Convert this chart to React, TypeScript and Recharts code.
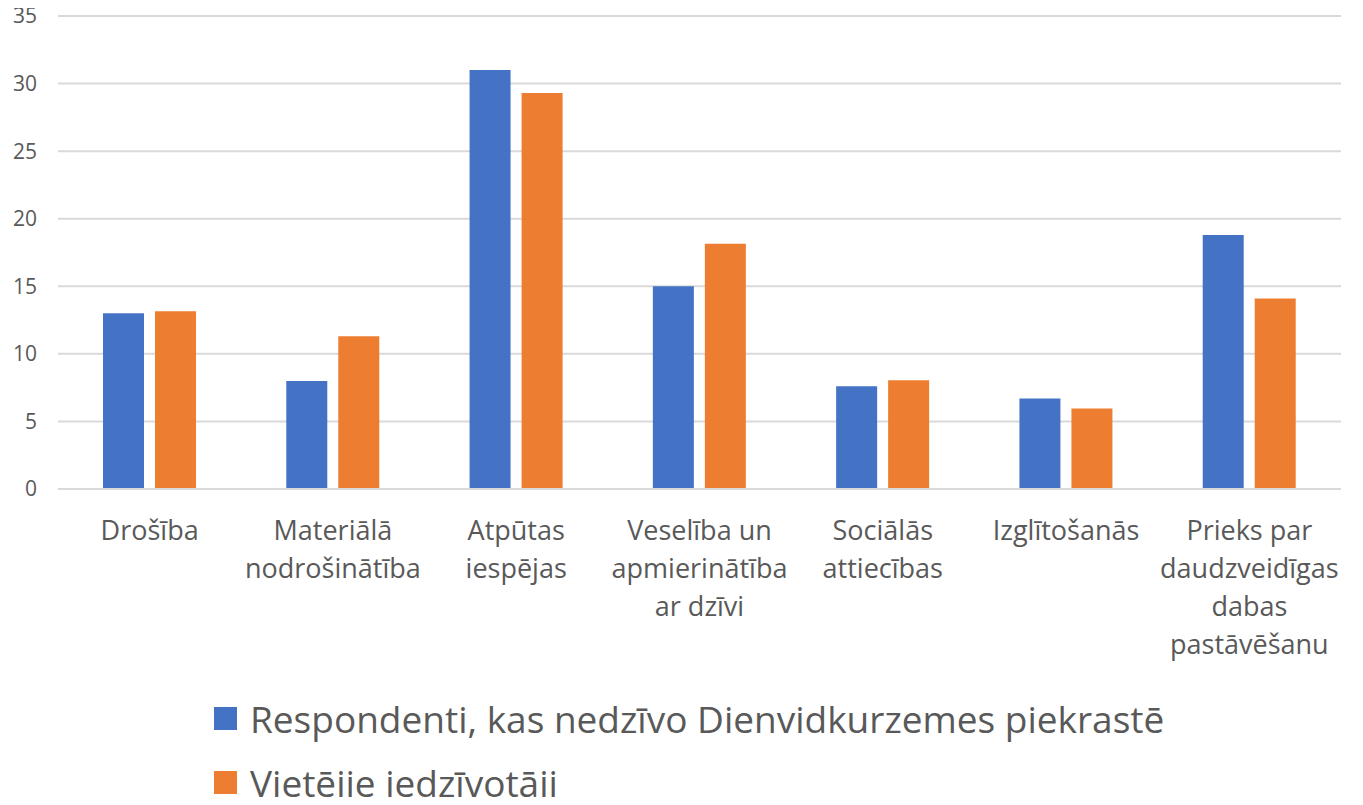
import React from "react";
import { BarChart, Bar, XAxis, YAxis, CartesianGrid } from "recharts";

const categories = [
  "Drošība",
  "Materiālā\nnodrošinātība",
  "Atpūtas\niespējas",
  "Veselība un\napmierinātība\nar dzīvi",
  "Sociālās\nattiecības",
  "Izglītošanās",
  "Prieks par\ndaudzveidīgas\ndabas\npastāvēšanu",
];
const respondenti = [13, 8, 31, 15, 7.6, 6.7, 18.8];
const vietejie = [13.15, 11.3, 29.3, 18.15, 8.05, 5.95, 14.1];
const yTicks = [0, 5, 10, 15, 20, 25, 30, 35];
const seriesNames = ["Respondenti, kas nedzīvo Dienvidkurzemes piekrastē", "Vietējie iedzīvotāji"];
const seriesColors = ["#4472C4", "#ED7D31"];

const data = categories.map((c, i) => ({ name: c, a: respondenti[i], b: vietejie[i] }));

const FONT = "'Open Sans', sans-serif";

const XTick = (props: any) => {
  const { x, y, payload } = props;
  const lines = String(payload.value).split("\n");
  return (
    <text x={x} y={y} textAnchor="middle" fill="#595959" fontFamily={FONT} fontSize={27}>
      {lines.map((l, i) => (
        <tspan key={i} x={x} dy={i === 0 ? 43 : 38}>{l}</tspan>
      ))}
    </text>
  );
};

export default function App() {
  return (
    <div style={{ margin: -8, width: 1363, height: 805, background: "#fff", position: "relative" }}>
      <BarChart
        width={1363}
        height={805}
        data={data}
        margin={{ top: 16, right: 22, bottom: 286, left: 0 }}
        barSize={41}
        barGap={11}
      >
        <CartesianGrid vertical={false} stroke="#d9d9d9" strokeWidth={2} />
        <XAxis
          dataKey="name"
          interval={0}
          tickLine={false}
          axisLine={{ stroke: "#d9d9d9", strokeWidth: 2 }}
          tick={<XTick />}
        />
        <YAxis
          width={58}
          domain={[0, 35]}
          ticks={yTicks}
          tickLine={false}
          axisLine={false}
          tickMargin={15}
          tick={{ fill: "#595959", fontFamily: FONT, fontSize: 21 }}
        />
        <Bar dataKey="a" fill={seriesColors[0]} isAnimationActive={false} />
        <Bar dataKey="b" fill={seriesColors[1]} isAnimationActive={false} />
      </BarChart>
      <div style={{ position: "absolute", left: 214, top: 686, fontFamily: FONT, color: "#595959", fontSize: 37 }}>
        {[0, 1].map((i) => (
          <div key={i} style={{ display: "flex", alignItems: "center", height: 64 }}>
            <div style={{ width: 23, height: 23, background: seriesColors[i], marginRight: 13 }} />
            <span style={{ whiteSpace: "nowrap" }}>{seriesNames[i]}</span>
          </div>
        ))}
      </div>
    </div>
  );
}
